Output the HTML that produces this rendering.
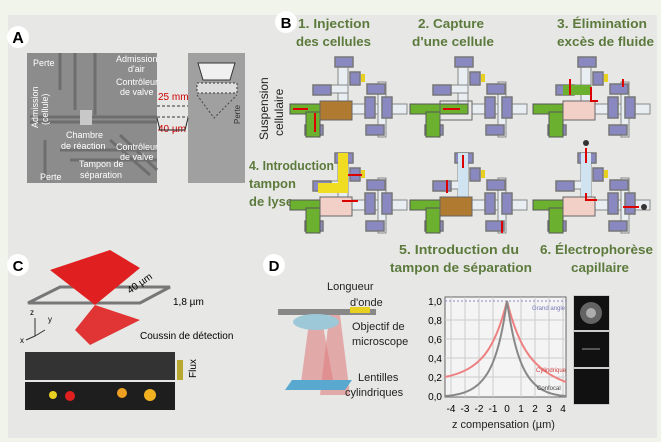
<!DOCTYPE html>
<html><head><meta charset="utf-8"><style>
body{margin:0;width:661px;height:442px;background:#f1f4ea;overflow:hidden;font-family:"Liberation Sans",sans-serif}
svg{position:absolute;left:0;top:0}
</style></head><body>
<svg width="661" height="442" viewBox="0 0 661 442" xmlns="http://www.w3.org/2000/svg" font-family="Liberation Sans, sans-serif">
<defs>
<g id="valve"><rect x="0" y="0" width="18" height="10" fill="#8a88c0" stroke="#777" stroke-width="1.5"/></g>
<g id="base">
 <rect x="48" y="0" width="10" height="47" fill="#e8eef2" stroke="#888"/>
 <rect x="30" y="28" width="28" height="8" fill="#e8eef2" stroke="#888"/>
 <rect x="62" y="47" width="55" height="10" fill="#e8eef2" stroke="#888"/>
 <rect x="88" y="25" width="8" height="55" fill="#e8eef2" stroke="#888"/>
 <use href="#valve" x="45" y="0"/>
 <rect x="60" y="15" width="10" height="13" fill="#8a88c0" stroke="#777" stroke-width="1.5"/>
 <rect x="71" y="17" width="4" height="8" fill="#e8d020"/>
 <use href="#valve" x="23" y="28"/>
 <use href="#valve" x="77" y="27"/>
 <rect x="75" y="40" width="10" height="21" fill="#8a88c0" stroke="#777" stroke-width="1.5"/>
 <rect x="92" y="40" width="10" height="21" fill="#8a88c0" stroke="#777" stroke-width="1.5"/>
 <use href="#valve" x="76" y="68"/>
 <use href="#valve" x="15" y="68"/>
</g>
</defs>
<rect x="8" y="15" width="649" height="423" fill="#e7e7e5"/>

<!-- Panel A -->
<circle cx="18" cy="37" r="11" fill="#fff"/>
<text x="18" y="43" font-size="16" font-weight="bold" text-anchor="middle">A</text>
<rect x="27" y="53" width="130" height="130" fill="#8c8c8c"/>
<g stroke="#6e6e6e" stroke-width="3" fill="none">
 <path d="M60 53 V90 M75 53 V110 M95 53 V115 M30 117 H157 M30 122 H157 M60 150 H157 M70 160 H157 M110 140 L150 175 M120 135 L157 170 M45 140 V180"/>
</g>
<rect x="80" y="110" width="12" height="15" fill="#c8c8c8"/>
<rect x="188" y="53" width="57" height="130" fill="#a0a0a0"/>
<path d="M198 63 H235 L230 80 H203 Z" fill="#f0f0f0" stroke="#333"/>
<rect x="197" y="83" width="40" height="10" fill="#ddd" stroke="#333" stroke-dasharray="2 2"/>
<path d="M197 95 L214 118 L237 95" fill="none" stroke="#444" stroke-dasharray="2 2"/>
<g font-size="9" fill="#fff">
 <text x="33" y="66">Perte</text>
 <text x="116" y="62">Admission</text><text x="128" y="72">d'air</text>
 <text x="116" y="85">Contrôleur</text><text x="120" y="95">de valve</text>
 <text x="66" y="138">Chambre</text><text x="61" y="149">de réaction</text>
 <text x="116" y="150">Contrôleur</text><text x="120" y="160">de valve</text>
 <text x="79" y="167">Tampon de</text><text x="80" y="178">séparation</text>
 <text x="40" y="180">Perte</text>
 <text transform="translate(38,128) rotate(-90)">Admission</text>
 <text transform="translate(48,125) rotate(-90)">(cellule)</text>
 <text transform="translate(240,124) rotate(-90)" fill="#333" font-size="8">Perte</text>
</g>
<text x="158" y="100" font-size="10" fill="#c00">25 mm</text>
<text x="158" y="132" font-size="10" fill="#c00">40 µm</text>
<path d="M157 106 H188 M157 117 H188" stroke="#333" stroke-dasharray="3 2"/>
<path d="M157 118 L160 130 H185 L188 118" fill="none" stroke="#222"/>

<!-- Panel B -->
<circle cx="286" cy="22" r="11" fill="#fff"/>
<text x="286" y="28" font-size="15" font-weight="bold" text-anchor="middle">B</text>
<g font-size="13" font-weight="bold" fill="#5c7a3c" lengthAdjust="spacingAndGlyphs">
 <text x="298" y="28" textLength="72" lengthAdjust="spacingAndGlyphs">1. Injection</text><text x="296" y="46" textLength="75" lengthAdjust="spacingAndGlyphs">des cellules</text>
 <text x="418" y="28" textLength="66" lengthAdjust="spacingAndGlyphs">2. Capture</text><text x="412" y="46" textLength="82" lengthAdjust="spacingAndGlyphs">d'une cellule</text>
 <text x="557" y="28" textLength="90" lengthAdjust="spacingAndGlyphs">3. Élimination</text><text x="557" y="46" textLength="97" lengthAdjust="spacingAndGlyphs">excès de fluide</text>
 <text x="249" y="170" textLength="85" lengthAdjust="spacingAndGlyphs">4. Introduction</text><text x="249" y="188">tampon</text><text x="249" y="206">de lyse</text>
 <text x="399" y="254" textLength="120" lengthAdjust="spacingAndGlyphs">5. Introduction du</text><text x="390" y="272" textLength="142" lengthAdjust="spacingAndGlyphs">tampon de séparation</text>
 <text x="540" y="254" textLength="113" lengthAdjust="spacingAndGlyphs">6. Électrophorèse</text><text x="571" y="272" textLength="58" lengthAdjust="spacingAndGlyphs">capillaire</text>
</g>
<text transform="translate(268,140) rotate(-90)" font-size="12" fill="#222">Suspension</text>
<text transform="translate(283,136) rotate(-90)" font-size="12" fill="#222">cellulaire</text>

<g transform="translate(290,57)"><use href="#base"/>
 <rect x="0" y="47" width="30" height="10" fill="#6cb030" stroke="#555"/><rect x="16" y="55" width="14" height="25" fill="#6cb030" stroke="#555"/>
 <rect x="30" y="44" width="32" height="19" fill="#b07a30" stroke="#666"/>
 <path d="M3 52 H18 M25 56 V75" stroke="#d00" stroke-width="2"/></g>
<g transform="translate(410,57)"><use href="#base"/>
 <rect x="0" y="47" width="58" height="10" fill="#6cb030" stroke="#555"/><rect x="16" y="55" width="14" height="25" fill="#6cb030" stroke="#555"/>
 <rect x="30" y="44" width="32" height="19" fill="none" stroke="#666"/>
 <path d="M33 52 H50" stroke="#d00" stroke-width="2"/></g>
<g transform="translate(533,57)"><use href="#base"/>
 <rect x="0" y="47" width="30" height="10" fill="#6cb030" stroke="#555"/><rect x="16" y="55" width="14" height="25" fill="#6cb030" stroke="#555"/>
 <rect x="30" y="44" width="32" height="19" fill="#f2d0c8" stroke="#666"/><rect x="30" y="28" width="28" height="10" fill="#6cb030"/>
 <path d="M37 38 V22 M58 30 V44 H65 M90 22 V30" stroke="#d00" stroke-width="2" fill="none"/></g>
<g transform="translate(290,153)"><use href="#base"/>
 <rect x="0" y="47" width="30" height="10" fill="#6cb030" stroke="#555"/><rect x="16" y="55" width="14" height="25" fill="#6cb030" stroke="#555"/>
 <rect x="48" y="0" width="10" height="40" fill="#f0dc20"/><rect x="28" y="30" width="30" height="10" fill="#f0dc20"/>
 <rect x="30" y="44" width="32" height="19" fill="#f2d0c8" stroke="#666"/>
 <path d="M72 22 H58 M52 48 H68" stroke="#d00" stroke-width="2"/></g>
<g transform="translate(410,153)"><use href="#base"/>
 <rect x="0" y="47" width="30" height="10" fill="#6cb030" stroke="#555"/><rect x="16" y="55" width="14" height="25" fill="#6cb030" stroke="#555"/>
 <rect x="48" y="0" width="10" height="47" fill="#cfe4f0"/>
 <rect x="30" y="44" width="32" height="19" fill="#b07a30" stroke="#666"/>
 <path d="M53 2 V15 M37 40 V27 M92 80 V68" stroke="#d00" stroke-width="2"/></g>
<g transform="translate(533,153)"><use href="#base"/>
 <rect x="0" y="47" width="30" height="10" fill="#6cb030" stroke="#555"/><rect x="16" y="55" width="14" height="25" fill="#6cb030" stroke="#555"/>
 <rect x="48" y="0" width="10" height="47" fill="#cfe4f0"/>
 <rect x="30" y="44" width="32" height="19" fill="#f2d0c8" stroke="#666"/>
 <circle cx="53" cy="-10" r="3" fill="#333"/><circle cx="111" cy="54" r="3" fill="#333"/>
 <path d="M53 -5 V10 M53 40 V47 H64 M90 54 H106" stroke="#d00" stroke-width="2" fill="none"/></g>

<!-- Panel C -->
<circle cx="18" cy="265" r="11" fill="#fff"/>
<text x="18" y="271" font-size="15" font-weight="bold" text-anchor="middle">C</text>
<path d="M28 303 L60 287 H170 L140 303 Z" fill="none" stroke="#777" stroke-width="3"/>
<polygon points="50,270 110,250 140,268 95,305" fill="#e02020"/>
<polygon points="95,305 75,330 90,345 140,320" fill="#e02020" opacity="0.9"/>
<text x="130" y="294" font-size="10" transform="rotate(-35 130 294)">40 µm</text>
<text x="173" y="305" font-size="10">1,8 µm</text>
<text x="140" y="339" font-size="10">Coussin de détection</text>
<text x="30" y="315" font-size="8">z</text><text x="48" y="322" font-size="8">y</text><text x="20" y="343" font-size="8">x</text>
<path d="M35 318 V336 L45 330 M35 336 L26 340" stroke="#333" fill="none"/>
<rect x="25" y="352" width="150" height="28" fill="#333"/>
<rect x="25" y="382" width="150" height="28" fill="#1e1e1e"/>
<circle cx="53" cy="395" r="4" fill="#e8d020"/><circle cx="70" cy="396" r="5" fill="#e02020"/>
<circle cx="122" cy="393" r="5" fill="#f0a020"/><circle cx="150" cy="395" r="6" fill="#f0b020"/>
<rect x="177" y="360" width="6" height="20" fill="#b8a830"/>
<text transform="translate(196,378) rotate(-90)" font-size="10">Flux</text>

<!-- Panel D -->
<circle cx="274" cy="265" r="11" fill="#fff"/>
<text x="274" y="271" font-size="15" font-weight="bold" text-anchor="middle">D</text>
<polygon points="300,390 310,315 320,310 335,390" fill="#e08080" opacity="0.6"/>
<polygon points="320,395 330,310 340,315 350,395" fill="#e08080" opacity="0.6"/>
<rect x="278" y="309" width="98" height="6" fill="#888"/><rect x="350" y="307" width="20" height="6" fill="#e8d020"/>
<ellipse cx="316" cy="322" rx="23" ry="8" fill="#9cc8d8"/>
<polygon points="292,380 352,380 345,390 285,390" fill="#58a8d0"/>
<g font-size="11" fill="#222">
 <text x="327" y="290">Longueur</text><text x="350" y="306">d'onde</text>
 <text x="352" y="330">Objectif de</text><text x="352" y="345">microscope</text>
 <text x="358" y="381">Lentilles</text><text x="345" y="396">cylindriques</text>
 <text x="452" y="428">z compensation (µm)</text>
</g>
<rect x="445" y="297" width="121" height="100" fill="#f4f4f4" stroke="#666"/>
<g stroke="#ccc"><path d="M451 297V397M465 297V397M479 297V397M493 297V397M521 297V397M535 297V397M549 297V397M563 297V397M445 320H566M445 339H566M445 358H566M445 377H566"/></g>
<path d="M445 301 H566" stroke="#8888cc" stroke-dasharray="2 2"/>
<path d="M445 377 C480 370 495 350 507 301 C519 350 534 370 566 382" fill="none" stroke="#ee8080" stroke-width="2"/>
<path d="M445 396 C485 394 497 370 507 301 C517 370 529 394 566 396" fill="none" stroke="#888" stroke-width="2"/>
<g font-size="10" text-anchor="end">
 <text x="442" y="305">1,0</text><text x="442" y="324">0,8</text><text x="442" y="343">0,6</text><text x="442" y="362">0,4</text><text x="442" y="381">0,2</text><text x="442" y="400">0,0</text>
</g>
<g font-size="10" text-anchor="middle">
 <text x="451" y="412">-4</text><text x="465" y="412">-3</text><text x="479" y="412">-2</text><text x="493" y="412">-1</text><text x="507" y="412">0</text><text x="521" y="412">1</text><text x="535" y="412">2</text><text x="549" y="412">3</text><text x="563" y="412">4</text>
</g>
<g font-size="6"><text x="532" y="310" fill="#7777bb">Grand angle</text><text x="536" y="372" fill="#d04040">Cylindrique</text><text x="537" y="390" fill="#444">Confocal</text></g>
<rect x="573" y="295" width="37" height="110" fill="#ccc"/>
<rect x="574" y="296" width="35" height="34" fill="#111"/><circle cx="591" cy="313" r="11" fill="#888" opacity="0.7"/><circle cx="591" cy="313" r="5" fill="#ccc" opacity="0.7"/>
<rect x="574" y="332" width="35" height="35" fill="#111"/><rect x="582" y="348" width="18" height="2" fill="#555"/>
<rect x="574" y="369" width="35" height="35" fill="#111"/>
</svg>
</body></html>
